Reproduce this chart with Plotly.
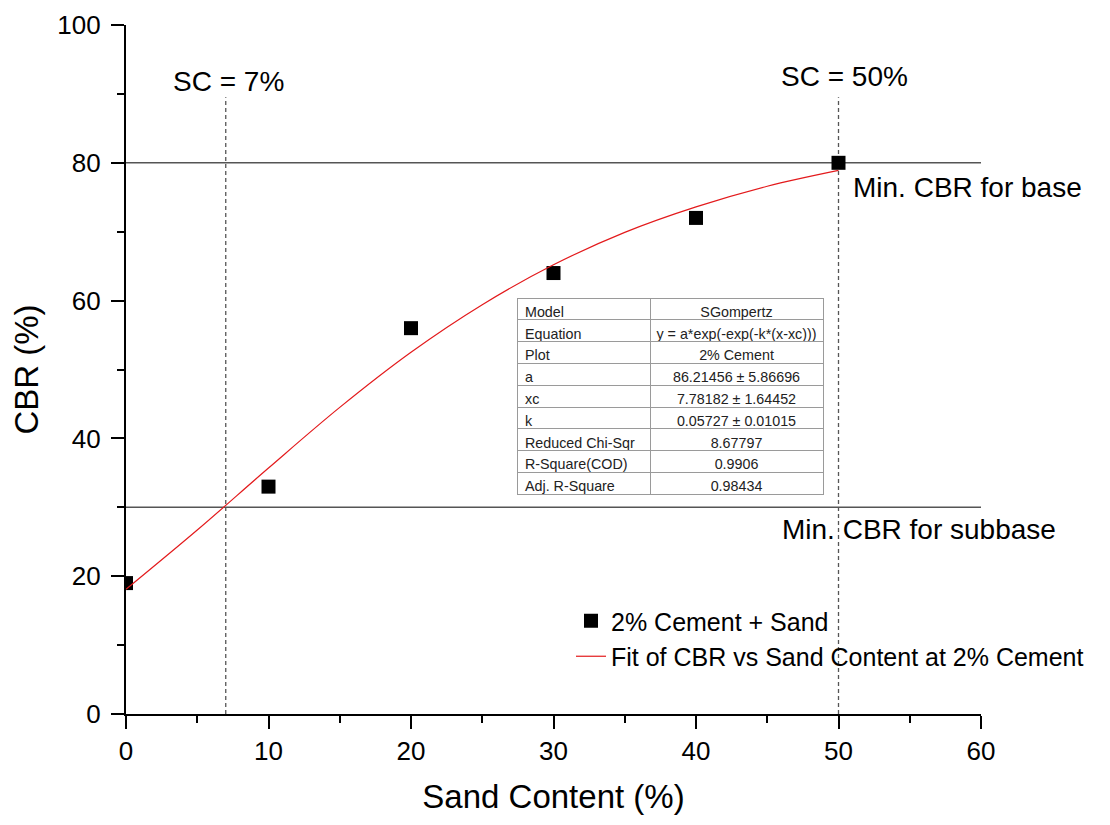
import plotly.graph_objects as go

# ---- data ----
sand_content = [0, 10, 20, 30, 40, 50]
cbr_2pct = [19, 33, 56, 64, 72, 80]

fit_x = [0, 5, 10, 15, 20, 25, 30, 35, 40, 45, 50]
fit_y = [18.1, 26.7, 35.7, 44.5, 52.5, 59.4, 65.2, 69.9, 73.6, 76.6, 78.9]

sc_limits = [7, 50]          # vertical dashed markers (Sand Content %)
sc_limit_top = 89.5          # top of dashed markers (CBR %)
cbr_limits = [80, 30]        # horizontal requirement lines (CBR %)

sc_labels = ["SC = 7%", "SC = 50%"]
sc_label_x = [7.2, 50.45]
sc_label_y = [91.8, 92.5]
cbr_labels = ["Min. CBR for base", "Min. CBR for subbase"]
cbr_label_x = [50.9, 45.9]
cbr_label_y = [76.4, 26.8]

table_params = ["Model", "Equation", "Plot", "a", "xc", "k",
                "Reduced Chi-Sqr", "R-Square(COD)", "Adj. R-Square"]
table_values = ["SGompertz", "y = a*exp(-exp(-k*(x-xc)))", "2% Cement",
                "86.21456 ± 5.86696", "7.78182 ± 1.64452", "0.05727 ± 0.01015",
                "8.67797", "0.9906", "0.98434"]

FONT = "Arial, 'Liberation Sans', sans-serif"
NB = "\u00a0"

# page body has an 8px default margin: figure is sized to fit inside it
W, H = 1094, 809
ML, MT = 118, 17
PW, PH = 855, 689

fig = go.Figure()

# reference lines
for c in cbr_limits:
    fig.add_shape(type="line", xref="x", yref="y", x0=0, x1=60, y0=c, y1=c,
                  line=dict(color="#555555", width=1.4), layer="below")
for s in sc_limits:
    fig.add_shape(type="line", xref="x", yref="y", x0=s, x1=s, y0=0, y1=sc_limit_top,
                  line=dict(color="#555555", width=1.3, dash="4px,3px"), layer="below")

fig.add_trace(go.Scatter(
    x=sand_content, y=cbr_2pct, mode="markers", name="2% Cement + Sand",
    marker=dict(symbol="square", size=14, color="black", line=dict(width=0)),
))
fig.add_trace(go.Scatter(
    x=fit_x, y=fit_y, mode="lines", name="Fit of CBR vs Sand Content at 2% Cement",
    line=dict(color="#e31a1c", width=1.2, shape="spline"),
))

# table (positions relative to plot area)
x0p = (517 - 126) / PW
x1p = (823 - 126) / PW
y0p = (714 - 498) / PH
y1p = (714 - 298) / PH
tp = [s.replace(" ", NB) for s in table_params]
tv = [s.replace(" ", NB) for s in table_values]
fig.add_trace(go.Table(
    domain=dict(x=[x0p, x1p], y=[y0p, y1p]),
    columnwidth=[133, 173],
    header=dict(values=[tp[0], tv[0]],
                align=["left", "center"], height=21.8,
                fill_color="white", line=dict(color="#9a9a9a", width=1),
                font=dict(family=FONT, size=14.3, color="#222")),
    cells=dict(values=[tp[1:], tv[1:]],
               align=["left", "center"], height=21.8,
               fill_color="white", line=dict(color="#9a9a9a", width=1),
               font=dict(family=FONT, size=14.3, color="#222")),
))

for t, x, y in zip(sc_labels, sc_label_x, sc_label_y):
    fig.add_annotation(x=x, y=y, text=t, showarrow=False, xanchor="center", yanchor="middle",
                       font=dict(family=FONT, size=28, color="black"))
for t, x, y in zip(cbr_labels, cbr_label_x, cbr_label_y):
    fig.add_annotation(x=x, y=y, text=t, showarrow=False, xanchor="left", yanchor="middle",
                       font=dict(family=FONT, size=28, color="black"))

axis_common = dict(
    showline=True, linecolor="black", linewidth=2.2,
    ticks="outside", ticklen=13, tickwidth=2.2, tickcolor="black",
    showgrid=False, zeroline=False, automargin=False,
    tickfont=dict(family=FONT, size=26, color="black"),
)
fig.update_xaxes(range=[0, 60], dtick=10, tick0=0,
                 title=dict(text="Sand Content (%)", font=dict(family=FONT, size=33, color="black"), standoff=20),
                 minor=dict(dtick=5, ticks="outside", ticklen=7, tickwidth=2.2, tickcolor="black"),
                 **axis_common)
fig.update_yaxes(range=[0, 100], dtick=20, tick0=0, ticklabelstandoff=5,
                 title=dict(text="CBR (%)", font=dict(family=FONT, size=33, color="black"), standoff=10),
                 minor=dict(dtick=10, ticks="outside", ticklen=7, tickwidth=2.2, tickcolor="black"),
                 **axis_common)

fig.update_layout(
    width=W, height=H,
    margin=dict(l=ML, r=W - ML - PW, t=MT, b=H - MT - PH, autoexpand=False),
    paper_bgcolor="white", plot_bgcolor="white",
    font=dict(family=FONT, color="black"),
    showlegend=True,
    legend=dict(x=(571 - 126) / PW, y=(714 - 598) / PH, xanchor="left", yanchor="top",
                bgcolor="rgba(0,0,0,0)", borderwidth=0,
                font=dict(family=FONT, size=25, color="black"), tracegroupgap=0),
)

fig.write_html("out.html")
